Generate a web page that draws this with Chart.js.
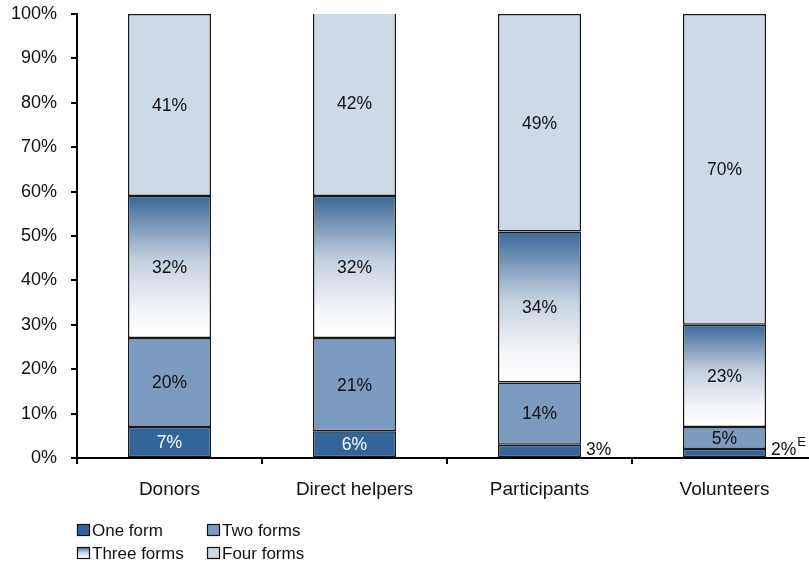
<!DOCTYPE html>
<html>
<head>
<meta charset="utf-8">
<script src="https://cdn.jsdelivr.net/npm/chart.js@4/dist/chart.umd.min.js"></script>
<style>
  html, body { margin: 0; padding: 0; background: #fff; overflow: hidden; width: 809px; height: 563px; }
  #wrap { position: absolute; left: 0; top: 0; width: 817px; height: 563px; }
  canvas { display: block; }
</style>
</head>
<body>
<div id="wrap"><canvas id="chart" width="817" height="563" style="width:817px;height:563px"></canvas></div>
<script>
// Share of each group by number of forms of involvement (%)
const categories = ['Donors', 'Direct helpers', 'Participants', 'Volunteers'];
const seriesNames = ['One form', 'Two forms', 'Three forms', 'Four forms'];
const oneForm    = [7, 6, 3, 2];
const twoForms   = [20, 21, 14, 5];
const threeForms = [32, 32, 34, 23];
const fourForms  = [41, 42, 49, 70];
// quality flag written next to a value
const oneFormNotes = ['', '', '', 'E'];
const yTickValues = [0, 10, 20, 30, 40, 50, 60, 70, 80, 90, 100];

const FONT = '"Liberation Sans", Arial, Helvetica, sans-serif';
const COL_ONE = '#33659a';
const COL_TWO = '#7b9cc0';
const COL_FOUR = '#cdd9e5';
const GRAD_STOPS = [[0, '#3a6899'], [0.45, '#c3d0de'], [0.8, '#f3f5f8'], [1, '#ffffff']];

function makeGradient(ctx, top, bottom) {
  const g = ctx.createLinearGradient(0, top, 0, bottom);
  GRAD_STOPS.forEach(([o, c]) => g.addColorStop(o, c));
  return g;
}

function threeFormsFill(context) {
  const chart = context.chart;
  const y = chart.scales && chart.scales.y;
  if (!y || context.type !== 'data') return GRAD_STOPS[1][1];
  const i = context.dataIndex;
  const base = oneForm[i] + twoForms[i];
  const top = y.getPixelForValue(base + threeForms[i]);
  const bottom = y.getPixelForValue(base);
  if (!isFinite(top) || !isFinite(bottom) || top === bottom) return GRAD_STOPS[1][1];
  return makeGradient(chart.ctx, top, bottom);
}

const seriesData = [oneForm, twoForms, threeForms, fourForms];
const seriesFill = [COL_ONE, COL_TWO, threeFormsFill, COL_FOUR];

// value labels on the bar segments
const valueLabels = {
  id: 'valueLabels',
  afterDatasetsDraw(chart) {
    const ctx = chart.ctx;
    const yScale = chart.scales.y;
    ctx.save();
    chart.data.datasets.forEach((ds, di) => {
      const meta = chart.getDatasetMeta(di);
      meta.data.forEach((bar, i) => {
        const v = ds.data[i];
        const text = Math.round(v) + '%';
        const h = Math.abs(bar.base - bar.y);
        ctx.font = '17.5px ' + FONT;
        if (h < 16) {
          // too thin: write it to the right of the bar
          const x = bar.x + bar.width / 2 + 5;
          const y = yScale.getPixelForValue(0) - 8;
          ctx.fillStyle = '#111';
          ctx.textAlign = 'left';
          ctx.textBaseline = 'middle';
          ctx.fillText(text, x, y);
          const note = di === 0 ? oneFormNotes[i] : '';
          if (note) {
            const w = ctx.measureText(text).width;
            ctx.font = '13px ' + FONT;
            ctx.fillText(note, x + w + 1, y - 8);
          }
        } else {
          ctx.fillStyle = (di === 0) ? '#ffffff' : '#111';
          ctx.textAlign = 'center';
          ctx.textBaseline = 'middle';
          ctx.fillText(text, bar.x, (bar.y + bar.base) / 2 + 1);
        }
      });
    });
    ctx.restore();
  }
};

// two-column legend under the axis
const formsLegend = {
  id: 'formsLegend',
  afterDraw(chart) {
    const ctx = chart.ctx;
    const cols = [77, 207];
    const rows = [524, 547];
    ctx.save();
    ctx.font = '17px ' + FONT;
    ctx.textAlign = 'left';
    ctx.textBaseline = 'middle';
    seriesNames.forEach((name, k) => {
      const bx = cols[k % 2];
      const by = rows[Math.floor(k / 2)];
      const bw = 13, bh = 12;
      ctx.fillStyle = k === 2 ? makeGradient(ctx, by, by + bh) : seriesFill[k];
      ctx.fillRect(bx, by, bw, bh);
      ctx.lineWidth = 1.2;
      ctx.strokeStyle = '#111';
      ctx.strokeRect(bx + 0.5, by + 0.5, bw - 1, bh - 1);
      ctx.fillStyle = '#111';
      ctx.fillText(name, bx + 15, by + bh / 2 + 1);
    });
    ctx.restore();
  }
};

new Chart(document.getElementById('chart'), {
  type: 'bar',
  data: {
    labels: categories,
    datasets: seriesNames.map((name, k) => ({
      label: name,
      data: seriesData[k],
      backgroundColor: seriesFill[k],
      borderColor: '#1a1a1a',
      borderWidth: 1.5,
      borderSkipped: false,
      categoryPercentage: 1,
      barPercentage: 0.449
    }))
  },
  options: {
    responsive: false,
    devicePixelRatio: 1,
    animation: false,
    layout: { padding: { top: 14, right: 0, bottom: 0, left: 0 } },
    plugins: { legend: { display: false }, tooltip: { enabled: false } },
    scales: {
      x: {
        stacked: true,
        offset: true,
        grid: { offset: true, drawOnChartArea: false, drawTicks: true, tickLength: 6, color: '#000', lineWidth: 2 },
        border: { display: true, color: '#000', width: 2 },
        ticks: { color: '#111', font: { family: FONT, size: 19 }, padding: 14 },
        afterFit(scale) { scale.height = 105; scale.paddingLeft = 0; scale.paddingRight = 0; }
      },
      y: {
        stacked: true,
        min: 0,
        max: 100,
        afterBuildTicks(scale) { scale.ticks = yTickValues.map(v => ({ value: v })); },
        grid: { drawOnChartArea: false, drawTicks: true, tickLength: 6, color: '#000', lineWidth: 2 },
        border: { display: true, color: '#000', width: 2 },
        ticks: { color: '#111', font: { family: FONT, size: 18 }, padding: 14, callback: v => v + '%' },
        afterFit(scale) { scale.width = 77; scale.paddingTop = 0; scale.paddingBottom = 0; }
      }
    }
  },
  plugins: [valueLabels, formsLegend]
});
</script>
</body>
</html>
